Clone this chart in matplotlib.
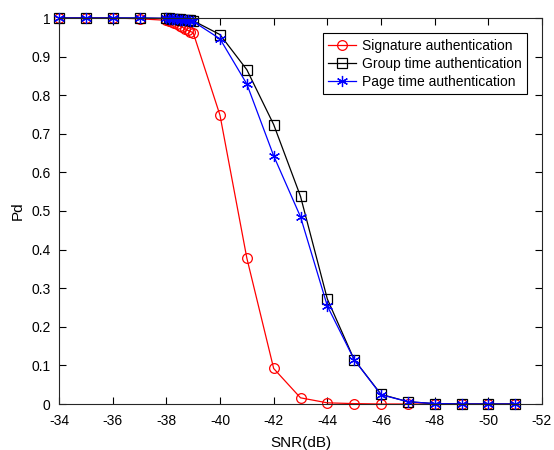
import matplotlib
matplotlib.use("Agg")
import matplotlib.pyplot as plt
import numpy as np

plt.rcParams['font.family'] = ['Liberation Sans', 'DejaVu Sans']
plt.rcParams['axes.unicode_minus'] = False

# SNR points (dense between -38 and -39)
snr = [-34, -35, -36, -37, -38, -38.1, -38.2, -38.3, -38.4, -38.5, -38.6, -38.7, -38.8, -38.9,
       -39, -40, -41, -42, -43, -44, -45, -46, -47, -48, -49, -50, -51]

pd_sig = [1, 1, 1, 0.998, 0.994, 0.992, 0.990, 0.987, 0.984, 0.980, 0.976, 0.972, 0.968, 0.965,
          0.962, 0.748, 0.378, 0.092, 0.016, 0.003, 0.001, 0, 0, 0, 0, 0, 0]
pd_group = [1, 1, 1, 1, 0.999, 0.999, 0.998, 0.998, 0.997, 0.997, 0.996, 0.996, 0.995, 0.994,
            0.993, 0.957, 0.866, 0.724, 0.538, 0.272, 0.115, 0.025, 0.006, 0.001, 0, 0, 0]
pd_page = [1, 1, 1, 1, 0.999, 0.998, 0.998, 0.997, 0.997, 0.996, 0.995, 0.995, 0.994, 0.993,
           0.991, 0.946, 0.829, 0.643, 0.485, 0.254, 0.115, 0.024, 0.006, 0.001, 0, 0, 0]

fig = plt.figure(figsize=(5.54, 4.5), dpi=100)
ax = fig.add_axes([59 / 554, 1 - 404 / 450, 483 / 554, 386 / 450])

ax.plot(snr, pd_sig, '-o', color='red', lw=0.9, ms=7, mfc='none', mew=0.9,
        clip_on=False, label='Signature authentication')
ax.plot(snr, pd_group, '-s', color='black', lw=0.9, ms=7, mfc='none', mew=0.9,
        clip_on=False, label='Group time authentication')
ax.plot(snr, pd_page, '-', marker=(6, 2, 0), color='blue', lw=0.9, ms=8, mew=0.9,
        clip_on=False, label='Page time authentication')

ax.set_xlim(-34, -52)
ax.set_ylim(0, 1)
ax.set_xticks(np.arange(-34, -53, -2))
ax.set_yticks(np.arange(0, 1.01, 0.1))
ax.set_yticklabels(['0', '0.1', '0.2', '0.3', '0.4', '0.5', '0.6', '0.7', '0.8', '0.9', '1'])
ax.tick_params(direction='in', top=True, right=True, labelsize=10, length=5, width=0.8)
ax.tick_params(axis='x', pad=7)
ax.tick_params(axis='y', pad=6)
ax.set_xlabel('SNR(dB)', fontsize=11, labelpad=6)
ax.set_ylabel('Pd', fontsize=11, labelpad=5)
for s in ax.spines.values():
    s.set_linewidth(0.8)
    s.set_color('#262626')

leg = ax.legend(loc='upper right', bbox_to_anchor=(527 / 554, 1 - 33 / 450),
                bbox_transform=fig.transFigure, borderaxespad=0, fontsize=10,
                fancybox=False, edgecolor='black', framealpha=1, borderpad=0.4,
                labelspacing=0.3, handlelength=2.0, handletextpad=0.4)
leg.get_frame().set_linewidth(0.8)
leg.set_zorder(5)

fig.savefig('out.png', dpi=100)
